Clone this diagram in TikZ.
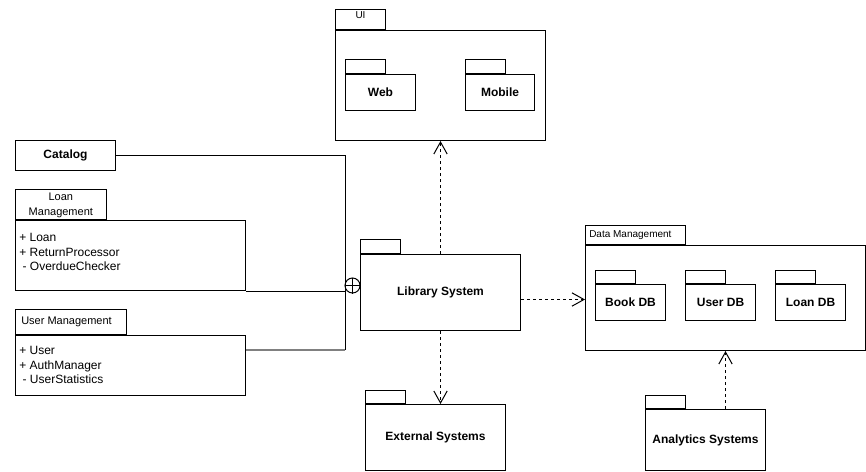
\documentclass[tikz,border=0pt]{standalone}
\usepackage{fontspec}
\setmainfont{Liberation Sans}
\usetikzlibrary{arrows.meta}

\begin{document}
\begin{tikzpicture}[x=0.75pt,y=0.75pt,yscale=-1,xscale=1,
  pkg/.style 2 args={draw, line width=0.75pt, anchor=north west, inner sep=0pt,
    minimum width=#1*0.75pt, minimum height=#2*0.75pt, font=\bfseries\fontsize{9}{11}\selectfont},
  tab/.style 2 args={draw, line width=0.75pt, anchor=south west, inner sep=0pt,
    minimum width=#1*0.75pt, minimum height=#2*0.75pt, font=\fontsize{8.25}{11.25}\selectfont, align=center},
  items/.style={anchor=north west, inner sep=0pt, align=left, font=\fontsize{9}{10.9}\selectfont},
  dep/.style={dashed, dash pattern=on 2.25pt off 2.25pt, line width=0.75pt, -{Straight Barb[length=9pt,width=10pt]}},
  wire/.style={line width=0.75pt},
]
\useasboundingbox (0,0) rectangle (866,471);

%Package: UI
\node[pkg={210}{110}] (ui) at (335,30) {};
\node[tab={50}{20}, label={[anchor=north, inner sep=1.5pt, font=\fontsize{7.5}{9}\selectfont]north:UI}] (uitab) at (ui.north west) {};
\node[pkg={70}{36}] (web) at (345,74) {Web};
\node[tab={40}{14}] (webtab) at (web.north west) {};
\node[pkg={69}{36}] (mobile) at (465,74) {Mobile};
\node[tab={40}{14}] (mobiletab) at (mobile.north west) {};

%Package: Library System
\node[pkg={160}{76}] (lib) at (360,254) {Library System};
\node[tab={40}{14}] (libtab) at (lib.north west) {};

%Package: External Systems
\node[pkg={140}{66}] (ext) at (365,404) {External Systems};
\node[tab={40}{13}] (exttab) at (ext.north west) {};

%Package: Data Management
\node[pkg={280}{105}] (dm) at (585,245) {};
\node[tab={100}{19}, label={[anchor=west, inner sep=3pt, font=\fontsize{7.5}{9}\selectfont]west:Data Management}] (dmtab) at (dm.north west) {};
\node[pkg={70}{36}] (bookdb) at (595,284) {Book DB};
\node[tab={40}{13}] (bookdbtab) at (bookdb.north west) {};
\node[pkg={70}{36}] (userdb) at (685,284) {User DB};
\node[tab={40}{13}] (userdbtab) at (userdb.north west) {};
\node[pkg={70}{36}] (loandb) at (775,284) {Loan DB};
\node[tab={40}{13}] (loandbtab) at (loandb.north west) {};

%Package: Analytics Systems
\node[pkg={120}{61}] (ana) at (645,409) {Analytics Systems};
\node[tab={40}{13.5}] (anatab) at (ana.north west) {};

%Class: Catalog
\node[pkg={100}{30}] (catalog) at (15,140) {Catalog};

%Package: Loan Management
\node[pkg={230}{70}] (loan) at (15,220) {};
\node[tab={90.7}{30}, text depth=-1pt] (loantab) at (loan.north west) {Loan\\Management};
\node[items] (loanitems) at (19,233) {+ Loan\\+ ReturnProcessor\\\ - OverdueChecker};

%Package: User Management
\node[pkg={230}{60}] (umg) at (15,335) {};
\node[tab={110.7}{25}, label={[anchor=west, inner sep=4.5pt, font=\fontsize{8.25}{10}\selectfont]west:User Management}] (umgtab) at (umg.north west) {};
\node[items] (umgitems) at (19,346) {+ User\\+ AuthManager\\\ - UserStatistics};

%Nesting connector
\coordinate (trunk) at (345,350);
\node[draw, circle, line width=0.75pt, inner sep=0pt, minimum size=11.25pt] (nest) at (352.5,285.5) {};
\draw[wire] (nest.north) -- (nest.south) (nest.west) -- (nest.east);
\draw[wire] (catalog.east) -| (trunk);
\draw[wire, draw=gray, line width=1.2pt] (trunk) -- (trunk -| umg.east);
\draw[wire] (loan.south east) -- (loan.south east -| trunk);

%Dependencies
\draw[dep] (lib.north) -- (ui.south);
\draw[dep] (lib.south) -- (lib.south |- ext.north);
\draw[dep] ([yshift=5.25pt]lib.east) -- ([yshift=5.25pt]lib.east -| dm.west);
\draw[dep] (ana.north -| dm.south) -- (dm.south);

\end{tikzpicture}
\end{document}
